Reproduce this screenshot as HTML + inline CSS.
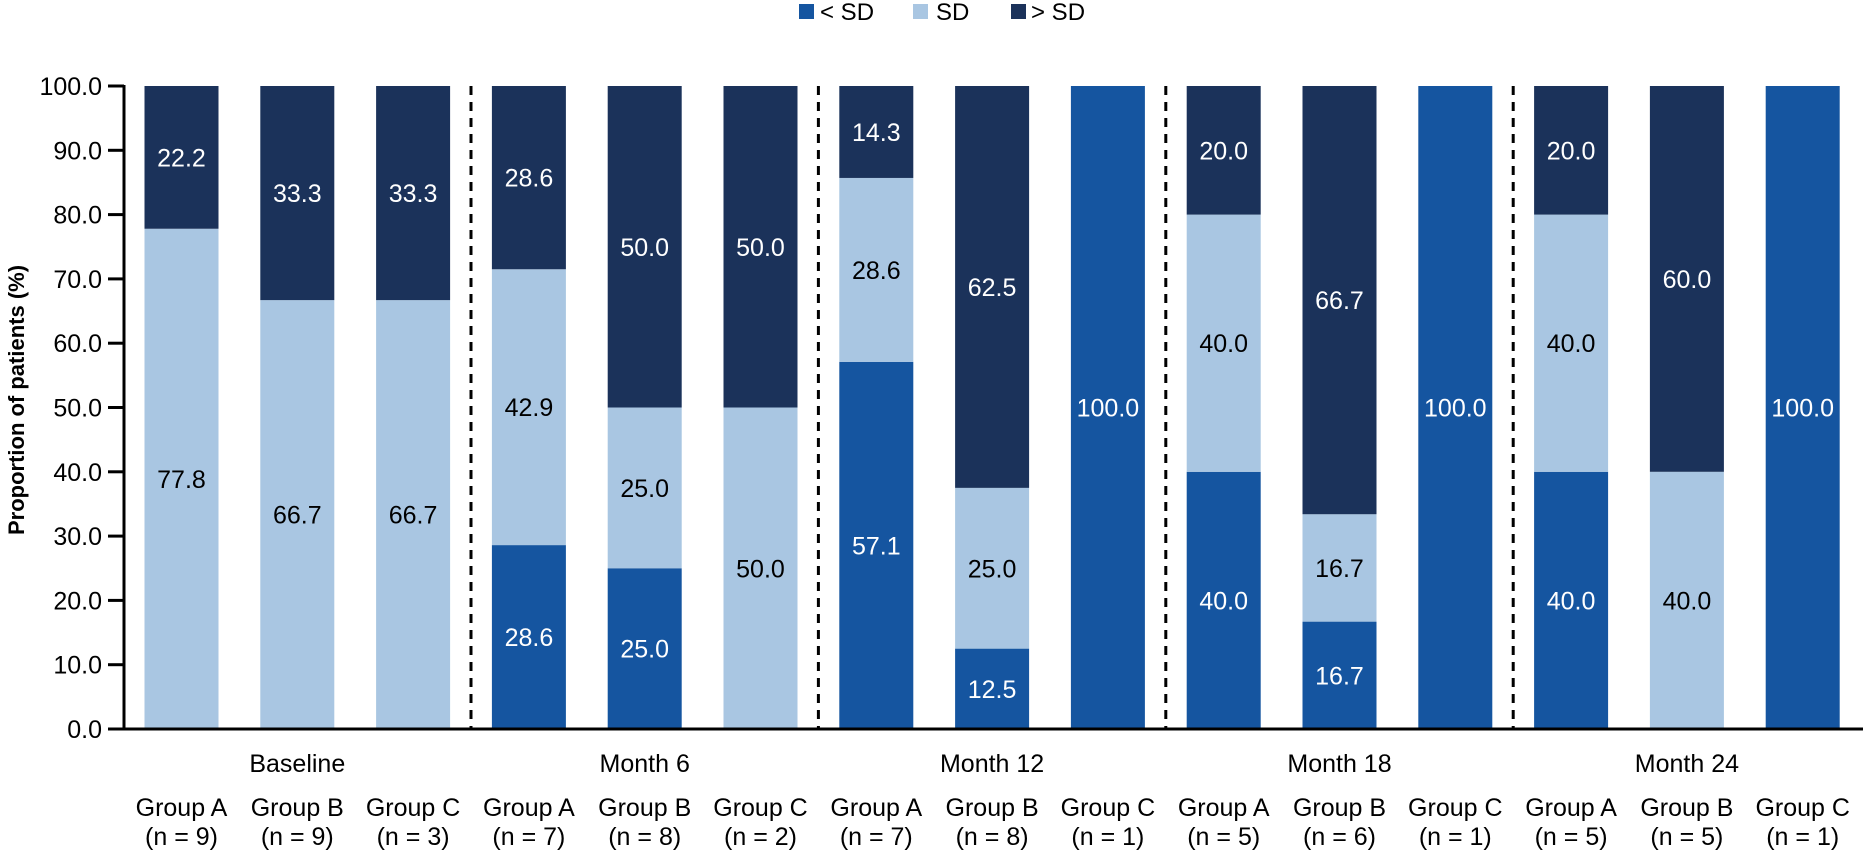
<!DOCTYPE html>
<html><head><meta charset="utf-8"><style>
html,body{margin:0;padding:0;background:#fff;}
svg{display:block;font-family:"Liberation Sans",Arial,sans-serif;}
</style></head><body>
<svg id="chart" width="1865" height="853" viewBox="0 0 1865 853">
<g id="legend">
 <g><rect x="799" y="4" width="15" height="15" fill="#1555a0"/><text x="820" y="20" font-size="24">&lt; SD</text></g>
 <g><rect x="913" y="4" width="15" height="15" fill="#a9c6e2"/><text x="936" y="20" font-size="24">SD</text></g>
 <g><rect x="1011" y="4" width="15" height="15" fill="#1b325a"/><text x="1031" y="20" font-size="24">&gt; SD</text></g>
</g>
<text transform="translate(24,400) rotate(-90)" text-anchor="middle" font-size="22" font-weight="bold">Proportion of patients (%)</text>
<g id="yaxis"></g>
<g id="bars"></g>
<g id="xlabels"></g>
</svg>
<script>
const timepoints = ["Baseline","Month 6","Month 12","Month 18","Month 24"];
const groups = ["Group A","Group B","Group C"];
const nValues = [9,9,3, 7,8,2, 7,8,1, 5,6,1, 5,5,1];
const belowSD = [0,0,0, 28.6,25.0,0, 57.1,12.5,100.0, 40.0,16.7,100.0, 40.0,0,100.0];
const withinSD = [77.8,66.7,66.7, 42.9,25.0,50.0, 28.6,25.0,0, 40.0,16.7,0, 40.0,40.0,0];
const aboveSD = [22.2,33.3,33.3, 28.6,50.0,50.0, 14.3,62.5,0, 20.0,66.7,0, 20.0,60.0,0];
const yTicks = [0,10,20,30,40,50,60,70,80,90,100];

const NS="http://www.w3.org/2000/svg";
const Y0=729, Y100=86, AX=124;
const y = v => Y0 - (Y0-Y100)*Math.min(v,100)/100;
const xc = i => 181.5 + i*115.8;
const BW = 74;
function mk(tag, attrs, parent, text){
  const e=document.createElementNS(NS,tag);
  for(const k in attrs) e.setAttribute(k,attrs[k]);
  if(text!==undefined) e.textContent=text;
  parent.appendChild(e); return e;
}
const ya=document.getElementById('yaxis');
const axisLine = mk('line',{x1:AX,y1:Y100-1,x2:AX,y2:Y0,stroke:'#000','stroke-width':3},ya);


yTicks.forEach(t=>{
  const tk=mk('line',{x1:108,y1:y(t),x2:AX,y2:y(t),stroke:'#000','stroke-width':3},ya);
  
  
  const lb=mk('text',{x:102,y:y(t)+9,'text-anchor':'end','font-size':25},ya,t.toFixed(1));
  
  
});
const bars=document.getElementById('bars');
const series=[[belowSD,'#1555a0','#fff','below-sd'],[withinSD,'#a9c6e2','#000','sd'],[aboveSD,'#1b325a','#fff','above-sd']];
for(let i=0;i<nValues.length;i++){
  let base=0;
  series.forEach(([arr,col,tc,nm])=>{
    const v=arr[i]; if(!v) return;
    const top=Math.min(base+v,100);
    const r=mk('rect',{x:xc(i)-BW/2,y:y(top),width:BW,height:y(base)-y(top),fill:col},bars);
    
    
    const lb=mk('text',{x:xc(i),y:(y(base)+y(top))/2+9,'text-anchor':'middle','font-size':25,fill:tc},bars,v.toFixed(1));
    
    
    base+=v;
  });
}
for(let k=1;k<timepoints.length;k++){
  const dx=(xc(3*k-1)+xc(3*k))/2;
  const d=mk('line',{x1:dx,y1:Y100,x2:dx,y2:Y0,stroke:'#000','stroke-width':3,'stroke-dasharray':'9,7'},bars);
  
  
}
const xl=mk('line',{x1:AX-1,y1:Y0,x2:1863,y2:Y0,stroke:'#000','stroke-width':3},bars);


const xg=document.getElementById('xlabels');
timepoints.forEach((t,k)=>{
  const e=mk('text',{x:xc(3*k+1),y:772,'text-anchor':'middle','font-size':25},xg,t);
  
  
});
for(let i=0;i<nValues.length;i++){
  const g=mk('text',{x:xc(i),y:816,'text-anchor':'middle','font-size':25},xg,groups[i%3]);
  
  
  const n=mk('text',{x:xc(i),y:845,'text-anchor':'middle','font-size':25},xg,'(n = '+nValues[i]+')');
  
  
}
</script>
</body></html>
